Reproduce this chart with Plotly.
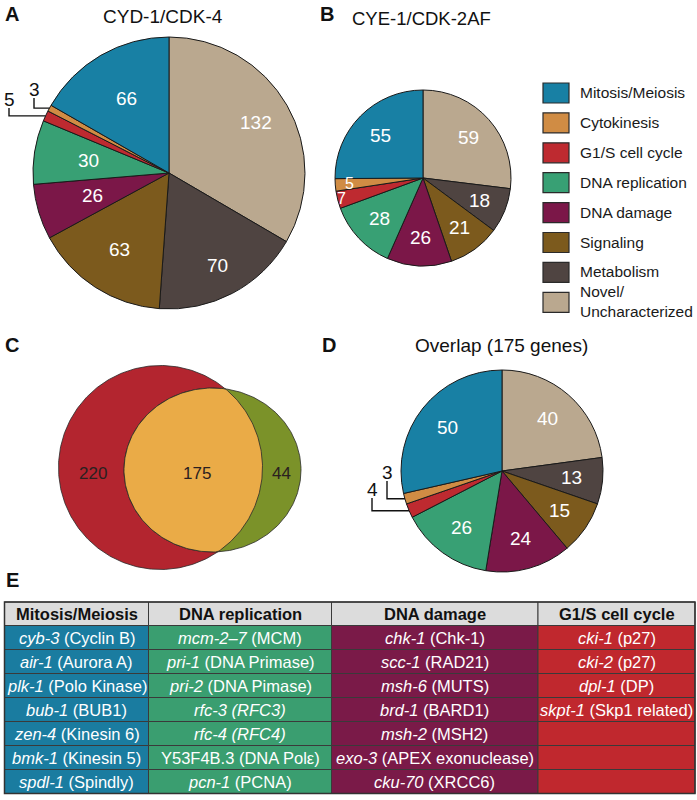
import numpy as np
import plotly.graph_objects as go

W, H = 697, 800
FONT = "Liberation Sans, Arial, sans-serif"

# ---------------- data ----------------
categories = ["Mitosis/Meiosis", "Cytokinesis", "G1/S cell cycle", "DNA replication",
              "DNA damage", "Signaling", "Metabolism", "Novel/<br>Uncharacterized"]
cyd1_values = [66, 3, 5, 30, 26, 63, 70, 132]
cye1_values = [55, 5, 7, 28, 26, 21, 18, 59]
overlap_values = [50, 3, 4, 26, 24, 15, 13, 40]

venn_labels = ["CYD-1/CDK-4 only", "Overlap", "CYE-1/CDK-2AF only"]
venn_values = [220, 175, 44]

table_headers = ["Mitosis/Meiosis", "DNA replication", "DNA damage", "G1/S cell cycle"]
mitosis_genes = ["<i>cyb-3</i> (Cyclin B)", "<i>air-1</i> (Aurora A)", "<i>plk-1</i> (Polo Kinase)",
                 "<i>bub-1</i> (BUB1)", "<i>zen-4</i> (Kinesin 6)", "<i>bmk-1</i> (Kinesin 5)",
                 "<i>spdl-1</i> (Spindly)"]
replication_genes = ["<i>mcm-2–7</i> (MCM)", "<i>pri-1</i> (DNA Primase)", "<i>pri-2</i> (DNA Pimase)",
                     "<i>rfc-3 (RFC3)</i>", "<i>rfc-4 (RFC4)</i>", "Y53F4B.3 (DNA Polε)",
                     "<i>pcn-1</i> (PCNA)"]
damage_genes = ["<i>chk-1</i> (Chk-1)", "<i>scc-1</i> (RAD21)", "<i>msh-6</i> (MUTS)",
                "<i>brd-1</i> (BARD1)", "<i>msh-2</i> (MSH2)", "<i>exo-3</i> (APEX exonuclease)",
                "<i>cku-70</i> (XRCC6)"]
g1s_genes = ["<i>cki-1</i> (p27)", "<i>cki-2</i> (p27)", "<i>dpl-1</i> (DP)",
             "<i>skpt-1</i> (Skp1 related)", "", "", ""]

# ---------------- styles / layout geometry ----------------
colors = ["#1880A4", "#D08C44", "#BE2A30", "#38A074", "#7B1748", "#7C5A1D", "#4F4441", "#BAA88F"]
table_colors = ["#1A7CA0", "#3A9E70", "#7A1A48", "#C0282E"]
venn_colors = ["#B3252F", "#EAAB47", "#7B9229"]

pieA = dict(cx=169, cy=173, r=136)
pieB = dict(cx=423, cy=178, r=88)
pieD = dict(cx=502, cy=471, r=101)

fig = go.Figure()


def add_pie(values, g):
    # slices run counter-clockwise from 12 o'clock starting with Mitosis/Meiosis;
    # drawn as the reversed list going clockwise from 12 o'clock
    fig.add_trace(go.Pie(
        labels=categories[::-1], values=values[::-1], sort=False, direction="clockwise",
        rotation=0, marker=dict(colors=colors[::-1], line=dict(color="#1a1a1a", width=1)),
        textinfo="none", hoverinfo="label+value",
        domain=dict(x=[(g["cx"] - g["r"]) / W, (g["cx"] + g["r"]) / W],
                    y=[1 - (g["cy"] + g["r"]) / H, 1 - (g["cy"] - g["r"]) / H]),
        showlegend=False))


def mid_angles(values):
    tot = float(sum(values))
    start = 90.0
    out = []
    for v in values:
        span = v / tot * 360.0
        out.append(start + span / 2)
        start += span
    return out


def pt(g, ang, frac):
    a = np.deg2rad(ang)
    return g["cx"] + frac * g["r"] * np.cos(a), g["cy"] - frac * g["r"] * np.sin(a)


add_pie(cyd1_values, pieA)
add_pie(cye1_values, pieB)
add_pie(overlap_values, pieD)

annotations = []
shapes = []


def label(x, y, text, size=19, color="white", bold=False, xanchor="center", align="center"):
    annotations.append(dict(x=x, y=y, xref="x", yref="y", text=("<b>%s</b>" % text) if bold else text,
                            showarrow=False, xanchor=xanchor, yanchor="middle", align=align,
                            font=dict(family=FONT, size=size, color=color)))


def pie_labels(values, g, fracs, skip, sizes=None):
    for i, (v, a) in enumerate(zip(values, mid_angles(values))):
        if i in skip:
            continue
        x, y = pt(g, a, fracs[i])
        label(x, y, str(v), size=(sizes[i] if sizes else 19))


def leader(values, g, idx, elbow_x, label_y):
    a = mid_angles(values)[idx]
    x, y = pt(g, a, 1.0)
    shapes.append(dict(type="path", xref="x", yref="y", layer="above",
                       path="M %.1f %.1f L %.1f %.1f L %.1f %.1f" % (x, y, elbow_x, y, elbow_x, label_y + 9),
                       line=dict(color="#111", width=1.4)))
    label(elbow_x, label_y, str(values[idx]), size=19, color="#111")


pie_labels(cyd1_values, pieA, [0.63, 0, 0, 0.6, 0.59, 0.67, 0.77, 0.74], skip=[1, 2])
leader(cyd1_values, pieA, 1, 34, 89)
leader(cyd1_values, pieA, 2, 9, 99)

pie_labels(cye1_values, pieB, [0.68, 0.84, 0.96, 0.68, 0.68, 0.7, 0.69, 0.69], skip=[],
           sizes=[19, 16, 16, 19, 19, 19, 19, 19])

pie_labels(overlap_values, pieD, [0.69] * 8, skip=[1, 2])
leader(overlap_values, pieD, 1, 387, 472)
leader(overlap_values, pieD, 2, 372, 489)

# ---------------- Venn ----------------
t = np.linspace(0, 2 * np.pi, 361)
red_c = (160.5, 467.5, 102, 102)
green_c = (212.5, 470, 88.5, 82)


def ellipse(c):
    return c[0] + c[2] * np.cos(t), c[1] + c[3] * np.sin(t)


def inside(c, x, y):
    return ((x - c[0]) / c[2]) ** 2 + ((y - c[1]) / c[3]) ** 2 <= 1.0 + 1e-9


rx, ry = ellipse(red_c)
gx, gy = ellipse(green_c)
pts_x = np.concatenate([gx[inside(red_c, gx, gy)], rx[inside(green_c, rx, ry)]])
pts_y = np.concatenate([gy[inside(red_c, gx, gy)], ry[inside(green_c, rx, ry)]])
mx, my = pts_x.mean(), pts_y.mean()
order = np.argsort(np.arctan2(pts_y - my, pts_x - mx))
ix, iy = pts_x[order], pts_y[order]
ix, iy = np.append(ix, ix[0]), np.append(iy, iy[0])

for (xx, yy, col, name) in [(rx, ry, venn_colors[0], venn_labels[0]),
                            (gx, gy, venn_colors[2], venn_labels[2]),
                            (ix, iy, venn_colors[1], venn_labels[1])]:
    fig.add_trace(go.Scatter(x=xx, y=yy, mode="lines", fill="toself", fillcolor=col,
                             line=dict(color="#2a2a2a", width=0.8), name=name,
                             hoverinfo="name", showlegend=False))

venn_pos_x = [93, 197, 281]
for v, x in zip(venn_values, venn_pos_x):
    label(x, 473, str(v), size=17, color="#2a2020")

# ---------------- legend ----------------
for i, (cat, col) in enumerate(zip(categories, colors)):
    yc = 93 + i * 29.9
    shapes.append(dict(type="rect", xref="x", yref="y", x0=543, x1=569, y0=yc - 10, y1=yc + 10,
                       fillcolor=col, line=dict(color="#2a2a2a", width=1.2), layer="above"))
    label(578, yc - 0.5, cat, size=15.5, color="#1a1a1a", xanchor="left", align="left")

# ---------------- titles & panel letters ----------------
label(162.5, 16, "CYD-1/CDK-4", size=19, color="#111")
label(350, 18, "CYE-1/CDK-2AF", size=18.5, color="#111", xanchor="left")
label(501.5, 345, "Overlap (175 genes)", size=19, color="#111")
for letter, x, y in [("A", 12, 14), ("B", 327, 14), ("C", 12, 345), ("D", 329, 345), ("E", 12, 580)]:
    label(x, y, letter, size=20, color="#111", bold=True)

# ---------------- table (cells as rectangles + text) ----------------
col_edges = [4.5, 148.5, 331.5, 538, 695]
header_top, header_h, row_h = 602, 23.5, 24
table_cols = [mitosis_genes, replication_genes, damage_genes, g1s_genes]
grid = dict(color="#3a3a3a", width=1)
for j, (head, col_vals) in enumerate(zip(table_headers, table_cols)):
    x0, x1 = col_edges[j], col_edges[j + 1]
    xc = (x0 + x1) / 2
    shapes.append(dict(type="rect", xref="x", yref="y", x0=x0, x1=x1, y0=header_top,
                       y1=header_top + header_h, fillcolor="#DCDCDC", line=grid, layer="below"))
    label(xc, header_top + header_h / 2 + 0.5, head, size=16.5, color="#111", bold=True)
    for i, txt in enumerate(col_vals):
        y0 = header_top + header_h + i * row_h
        shapes.append(dict(type="rect", xref="x", yref="y", x0=x0, x1=x1, y0=y0, y1=y0 + row_h,
                           fillcolor=table_colors[j], line=grid, layer="below"))
        if txt:
            label(xc, y0 + row_h / 2 + 0.5, txt, size=16.5, color="white")
shapes.append(dict(type="rect", xref="x", yref="y", x0=col_edges[0], x1=col_edges[-1],
                   y0=header_top, y1=header_top + header_h + row_h * len(mitosis_genes),
                   line=dict(color="#333", width=1.5), layer="below"))

fig.update_layout(
    width=W, height=H, margin=dict(l=0, r=0, t=0, b=0),
    paper_bgcolor="white", plot_bgcolor="white", showlegend=False,
    xaxis=dict(range=[0, W], visible=False, fixedrange=True, domain=[0, 1]),
    yaxis=dict(range=[H, 0], visible=False, fixedrange=True, domain=[0, 1]),
    annotations=annotations, shapes=shapes,
    font=dict(family=FONT),
)

fig.write_html("out.html", config={"displayModeBar": False},
               post_script="document.body.style.margin='0px';")
